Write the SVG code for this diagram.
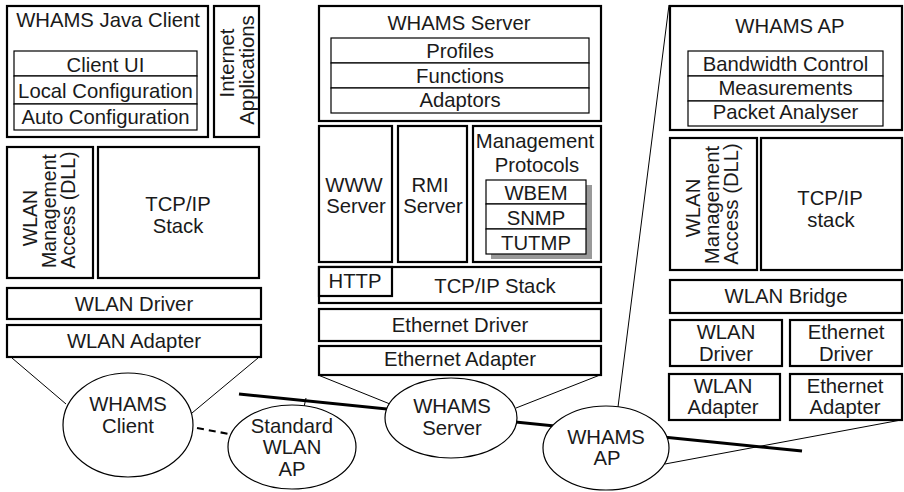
<svg xmlns="http://www.w3.org/2000/svg" width="904" height="492" viewBox="0 0 904 492">
<style>
text{font-family:"Liberation Sans",Arial,sans-serif;font-size:20.3px;fill:#1a1a1a;text-anchor:middle}
.rot{font-size:19.5px}
.box{fill:#fff;stroke:#000;stroke-width:2.2}
.in{fill:#fff;stroke:#000;stroke-width:1.2}
.ell{fill:#fff;stroke:#000;stroke-width:1.2}
.thin{stroke:#000;stroke-width:1;fill:none}
.bb{stroke:#000;stroke-width:3;fill:none}
.dash{stroke:#000;stroke-width:2.2;stroke-dasharray:7 5;fill:none}
</style>
<rect width="904" height="492" fill="#fff"/>
<g id="connectors">
<line class="thin" x1="12" y1="358" x2="66" y2="404"/>
<line class="thin" x1="258" y1="358" x2="192" y2="413"/>
<line class="thin" x1="318" y1="375" x2="390" y2="404"/>
<line class="thin" x1="600" y1="375" x2="516" y2="408"/>
<line class="thin" x1="669" y1="5" x2="618" y2="407"/>
<line class="thin" x1="901" y1="420" x2="665" y2="464"/>
<line class="bb" x1="239" y1="394" x2="802" y2="451"/>
<line class="thin" x1="306" y1="398" x2="304" y2="407"/>
<line class="dash" x1="197" y1="428" x2="229" y2="434"/>
</g>
<g id="whams-java-client">
<rect class="box" x="7" y="6" width="201" height="131"/>
<text x="108" y="27">WHAMS Java Client</text>
<rect class="in" x="14" y="51" width="183" height="25"/>
<rect class="in" x="14" y="76" width="183" height="28"/>
<rect class="in" x="14" y="104" width="183" height="26"/>
<text x="105.5" y="72">Client UI</text>
<text x="105.5" y="98">Local Configuration</text>
<text x="105.5" y="124">Auto Configuration</text>
</g>
<g id="internet-applications">
<rect class="box" x="214" y="6" width="45" height="131"/>
<text transform="translate(234,63) rotate(-90)">Internet</text>
<text transform="translate(254,70) rotate(-90)">Applications</text>
</g>
<g id="client-wlan-mgmt">
<rect class="box" x="7" y="147" width="86" height="131"/>
<text class="rot" transform="translate(37,218) rotate(-90)">WLAN</text>
<text class="rot" transform="translate(56,211) rotate(-90)">Management</text>
<text class="rot" transform="translate(75,210) rotate(-90)">Access (DLL)</text>
</g>
<g id="client-tcpip">
<rect class="box" x="98" y="147" width="161" height="131"/>
<text x="178" y="211">TCP/IP</text>
<text x="178" y="233">Stack</text>
</g>
<g id="client-wlan-driver">
<rect class="box" x="7" y="288" width="254" height="31"/>
<text x="134" y="311">WLAN Driver</text>
</g>
<g id="client-wlan-adapter">
<rect class="box" x="7" y="325" width="254" height="32"/>
<text x="134" y="348">WLAN Adapter</text>
</g>
<g id="whams-server-box">
<rect class="box" x="319" y="6" width="282" height="115"/>
<text x="459" y="30">WHAMS Server</text>
<rect class="in" x="331" y="38" width="258" height="25"/>
<rect class="in" x="331" y="63" width="258" height="25"/>
<rect class="in" x="331" y="88" width="258" height="25"/>
<text x="460" y="58">Profiles</text>
<text x="460" y="83">Functions</text>
<text x="460" y="107">Adaptors</text>
</g>
<g id="www-server">
<rect class="box" x="319" y="126" width="73" height="136"/>
<text x="354" y="192">WWW</text>
<text x="356" y="213">Server</text>
</g>
<g id="rmi-server">
<rect class="box" x="398" y="126" width="69" height="136"/>
<text x="430" y="192">RMI</text>
<text x="433" y="213">Server</text>
</g>
<g id="management-protocols">
<rect class="box" x="473" y="126" width="128" height="136"/>
<text x="535" y="148">Management</text>
<text x="537" y="172">Protocols</text>
<rect x="491" y="185" width="101" height="74" fill="#999"/>
<rect class="in" x="486" y="180" width="100" height="24"/>
<rect class="in" x="486" y="204" width="100" height="25"/>
<rect class="in" x="486" y="229" width="100" height="25"/>
<text x="536" y="200">WBEM</text>
<text x="536" y="225">SNMP</text>
<text x="536" y="250">TUTMP</text>
</g>
<g id="server-tcpip">
<rect class="box" x="319" y="267" width="282" height="36"/>
<rect class="box" x="319" y="267" width="73" height="29"/>
<text x="355" y="288">HTTP</text>
<text x="495" y="293">TCP/IP Stack</text>
</g>
<g id="ethernet-driver">
<rect class="box" x="319" y="309" width="282" height="32"/>
<text x="460" y="332">Ethernet Driver</text>
</g>
<g id="ethernet-adapter">
<rect class="box" x="319" y="346" width="282" height="29"/>
<text x="460" y="366">Ethernet Adapter</text>
</g>
<g id="whams-ap-box">
<rect class="box" x="670" y="6" width="232" height="124"/>
<text x="790" y="33">WHAMS AP</text>
<rect class="in" x="688" y="51" width="195" height="25"/>
<rect class="in" x="688" y="76" width="195" height="25"/>
<rect class="in" x="688" y="101" width="195" height="25"/>
<text x="785.5" y="71">Bandwidth Control</text>
<text x="785.5" y="95">Measurements</text>
<text x="785.5" y="119">Packet Analyser</text>
</g>
<g id="ap-wlan-mgmt">
<rect class="box" x="670" y="138" width="87" height="132"/>
<text transform="translate(700,208) rotate(-90)">WLAN</text>
<text transform="translate(719,205) rotate(-90)">Management</text>
<text transform="translate(738,204) rotate(-90)">Access (DLL)</text>
</g>
<g id="ap-tcpip">
<rect class="box" x="761" y="138" width="141" height="132"/>
<text x="830" y="205">TCP/IP</text>
<text x="831" y="227">stack</text>
</g>
<g id="wlan-bridge">
<rect class="box" x="670" y="280" width="232" height="33"/>
<text x="786" y="303">WLAN Bridge</text>
</g>
<g id="ap-wlan-driver">
<rect class="box" x="670" y="320" width="112" height="46"/>
<text x="726" y="339">WLAN</text>
<text x="726" y="361">Driver</text>
</g>
<g id="ap-ethernet-driver">
<rect class="box" x="790" y="320" width="112" height="46"/>
<text x="846" y="339">Ethernet</text>
<text x="846" y="361">Driver</text>
</g>
<g id="ap-wlan-adapter">
<rect class="box" x="669" y="374" width="111" height="46"/>
<text x="723" y="393">WLAN</text>
<text x="723" y="414">Adapter</text>
</g>
<g id="ap-ethernet-adapter">
<rect class="box" x="790" y="374" width="112" height="46"/>
<text x="845" y="393">Ethernet</text>
<text x="845" y="414">Adapter</text>
</g>
<g id="whams-client">
<ellipse class="ell" cx="128" cy="425" rx="65" ry="52"/>
<text x="128" y="411">WHAMS</text>
<text x="128" y="433">Client</text>
</g>
<g id="standard-wlan-ap">
<ellipse class="ell" cx="292" cy="447" rx="64" ry="42"/>
<text x="292" y="433">Standard</text>
<text x="292" y="454">WLAN</text>
<text x="292" y="476">AP</text>
</g>
<g id="whams-server">
<ellipse class="ell" cx="451" cy="418" rx="66" ry="40"/>
<text x="452" y="413">WHAMS</text>
<text x="452" y="435">Server</text>
</g>
<g id="whams-ap">
<ellipse class="ell" cx="606" cy="448" rx="63" ry="42"/>
<text x="606" y="444">WHAMS</text>
<text x="607" y="465">AP</text>
</g>
</svg>
